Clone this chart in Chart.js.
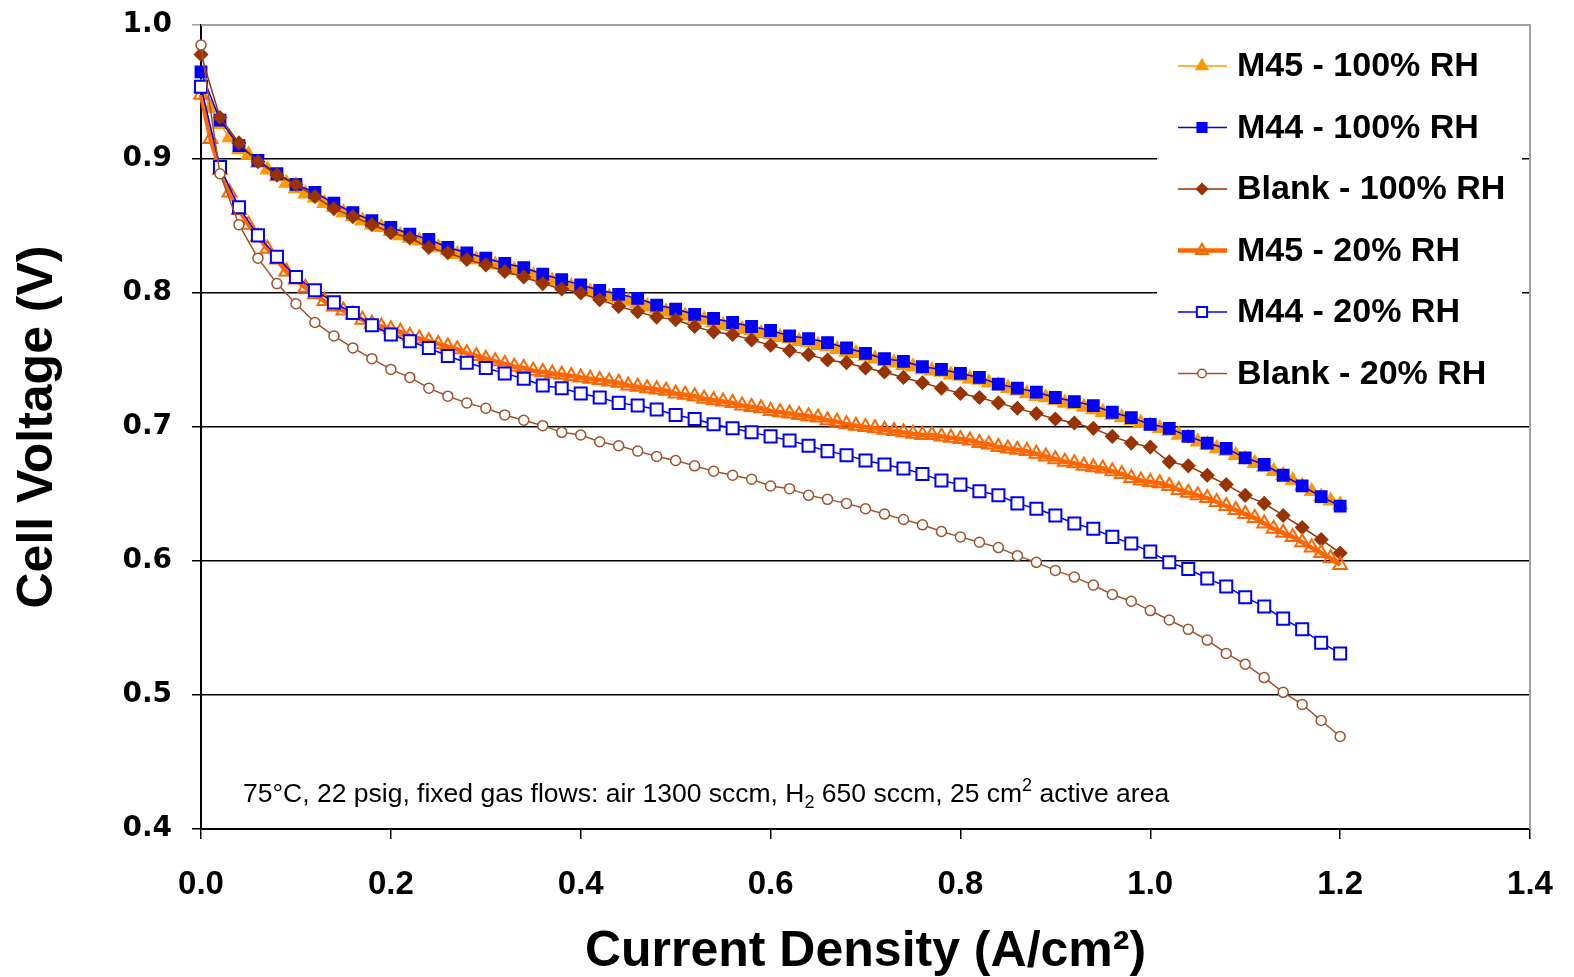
<!DOCTYPE html>
<html>
<head>
<meta charset="utf-8">
<title>Cell Voltage vs Current Density</title>
<script src="https://cdn.jsdelivr.net/npm/chart.js@4.4.1/dist/chart.umd.min.js"></script>
<style>
  html, body { margin: 0; padding: 0; background: #fff; }
  #wrap { width: 1574px; height: 977px; }
</style>
</head>
<body>
<div id="wrap"><canvas id="polChart" width="1574" height="977"></canvas></div>
<script>
// current density steps (A/cm2)
const currentCoarse = [0.00,0.02,0.04,0.06,0.08,0.10,0.12,0.14,0.16,0.18,0.20,0.22,0.24,0.26,0.28,0.30,0.32,0.34,0.36,0.38,0.40,
  0.42,0.44,0.46,0.48,0.50,0.52,0.54,0.56,0.58,0.60,0.62,0.64,0.66,0.68,0.70,0.72,0.74,0.76,0.78,0.80,
  0.82,0.84,0.86,0.88,0.90,0.92,0.94,0.96,0.98,1.00,1.02,1.04,1.06,1.08,1.10,1.12,1.14,1.16,1.18,1.20];
const currentFine = [0.00,0.01,0.02,0.03,0.04,0.05,0.06,0.07,0.08,0.09,0.10,0.11,0.12,0.13,0.14,0.15,0.16,0.17,0.18,0.19,0.20,
  0.21,0.22,0.23,0.24,0.25,0.26,0.27,0.28,0.29,0.30,0.31,0.32,0.33,0.34,0.35,0.36,0.37,0.38,0.39,0.40,
  0.41,0.42,0.43,0.44,0.45,0.46,0.47,0.48,0.49,0.50,0.51,0.52,0.53,0.54,0.55,0.56,0.57,0.58,0.59,0.60,
  0.61,0.62,0.63,0.64,0.65,0.66,0.67,0.68,0.69,0.70,0.71,0.72,0.73,0.74,0.75,0.76,0.77,0.78,0.79,0.80,
  0.81,0.82,0.83,0.84,0.85,0.86,0.87,0.88,0.89,0.90,0.91,0.92,0.93,0.94,0.95,0.96,0.97,0.98,0.99,1.00,
  1.01,1.02,1.03,1.04,1.05,1.06,1.07,1.08,1.09,1.10,1.11,1.12,1.13,1.14,1.15,1.16,1.17,1.18,1.19,1.20];

// cell voltages (V)
const m45Wet = [0.953,0.938,0.926,0.916,0.907,0.903,0.897,0.892,0.887,0.882,0.878,0.874,0.871,0.867,0.864,0.860,0.857,0.854,0.851,0.849,0.846,
  0.843,0.841,0.839,0.837,0.834,0.832,0.829,0.827,0.825,0.823,0.821,0.819,0.817,0.815,0.813,0.811,0.809,0.807,0.805,0.803,
  0.801,0.799,0.797,0.796,0.794,0.792,0.790,0.788,0.786,0.785,0.783,0.781,0.780,0.778,0.776,0.775,0.773,0.772,0.770,0.769,
  0.767,0.766,0.764,0.763,0.761,0.760,0.758,0.756,0.755,0.753,0.751,0.749,0.748,0.746,0.745,0.743,0.742,0.741,0.739,0.738,
  0.736,0.735,0.733,0.731,0.729,0.727,0.725,0.723,0.722,0.720,0.718,0.717,0.715,0.713,0.711,0.709,0.707,0.705,0.703,0.701,
  0.699,0.697,0.694,0.692,0.689,0.687,0.684,0.682,0.679,0.676,0.673,0.670,0.667,0.664,0.660,0.656,0.652,0.648,0.645,0.642];
const m44Wet = [0.965,0.929,0.910,0.899,0.889,0.881,0.875,0.867,0.860,0.854,0.849,0.844,0.840,0.834,0.830,0.826,0.822,0.819,0.814,0.810,0.806,
  0.802,0.799,0.796,0.791,0.788,0.784,0.781,0.778,0.775,0.772,0.768,0.766,0.763,0.759,0.755,0.751,0.749,0.745,0.743,0.740,
  0.737,0.732,0.729,0.726,0.722,0.719,0.716,0.711,0.707,0.702,0.699,0.693,0.688,0.684,0.677,0.672,0.664,0.656,0.648,0.641];
const blankWet = [0.978,0.931,0.912,0.898,0.888,0.881,0.872,0.863,0.857,0.851,0.845,0.841,0.834,0.830,0.825,0.821,0.816,0.812,0.807,0.803,0.800,
  0.795,0.790,0.786,0.782,0.780,0.775,0.771,0.769,0.765,0.761,0.757,0.754,0.750,0.748,0.744,0.741,0.737,0.733,0.729,0.725,
  0.722,0.718,0.714,0.710,0.706,0.703,0.699,0.693,0.688,0.685,0.674,0.671,0.664,0.657,0.649,0.643,0.634,0.625,0.616,0.606];
const m45Dry = [0.948,0.915,0.892,0.875,0.862,0.851,0.842,0.833,0.825,0.816,0.810,0.804,0.799,0.794,0.790,0.787,0.784,0.780,0.777,0.775,0.773,
  0.771,0.768,0.766,0.764,0.762,0.760,0.758,0.755,0.753,0.751,0.749,0.747,0.745,0.744,0.742,0.741,0.740,0.739,0.738,0.737,
  0.736,0.735,0.734,0.733,0.731,0.730,0.729,0.728,0.727,0.725,0.724,0.723,0.721,0.720,0.719,0.718,0.716,0.715,0.714,0.712,
  0.711,0.710,0.709,0.708,0.707,0.705,0.704,0.702,0.701,0.700,0.699,0.698,0.697,0.696,0.695,0.694,0.694,0.693,0.692,0.691,
  0.690,0.688,0.687,0.685,0.684,0.683,0.682,0.680,0.678,0.676,0.674,0.673,0.671,0.670,0.669,0.667,0.665,0.662,0.660,0.659,
  0.658,0.656,0.653,0.651,0.649,0.647,0.644,0.641,0.638,0.635,0.632,0.628,0.624,0.621,0.618,0.614,0.610,0.606,0.602,0.597];
const m44Dry = [0.954,0.894,0.864,0.843,0.827,0.812,0.802,0.793,0.785,0.776,0.769,0.764,0.759,0.753,0.748,0.744,0.740,0.736,0.731,0.729,0.725,
  0.722,0.718,0.716,0.713,0.709,0.706,0.702,0.699,0.696,0.693,0.690,0.686,0.682,0.679,0.675,0.672,0.669,0.665,0.660,0.657,
  0.652,0.649,0.643,0.639,0.634,0.628,0.624,0.618,0.613,0.607,0.599,0.594,0.587,0.581,0.573,0.566,0.557,0.549,0.539,0.531];
const blankDry = [0.985,0.889,0.851,0.826,0.807,0.792,0.778,0.768,0.759,0.751,0.743,0.737,0.729,0.723,0.718,0.714,0.709,0.705,0.701,0.696,0.694,
  0.689,0.686,0.682,0.678,0.675,0.671,0.667,0.664,0.661,0.656,0.654,0.649,0.646,0.643,0.639,0.635,0.631,0.627,0.622,0.618,
  0.614,0.610,0.604,0.599,0.593,0.588,0.582,0.575,0.570,0.563,0.556,0.549,0.541,0.531,0.523,0.513,0.502,0.493,0.481,0.469];

const seriesNames = ['M45 - 100% RH', 'M44 - 100% RH', 'Blank - 100% RH', 'M45 - 20% RH', 'M44 - 20% RH', 'Blank - 20% RH'];
const yTicks = [0.4, 0.5, 0.6, 0.7, 0.8, 0.9, 1.0];
const xTicks = [0.0, 0.2, 0.4, 0.6, 0.8, 1.0, 1.2, 1.4];

const pts = (xs, ys) => ys.map((v, i) => ({ x: xs[i], y: v }));

const SANS = '"Liberation Sans", Arial, sans-serif';

function series(label, xs, ys, color, style, opts) {
    return Object.assign({
        label: label,
        data: pts(xs, ys),
        showLine: true,
        borderColor: color,
        backgroundColor: color,
        borderWidth: 1.5,
        pointStyle: style,
        pointRadius: 5,
        pointBorderWidth: 1.5,
        pointBorderColor: color,
        pointBackgroundColor: color,
        pointHoverRadius: 5,
        clip: false
    }, opts);
}

const datasets = [
    series(seriesNames[0], currentFine, m45Wet, '#FF9900', 'triangle', { pointRadius: 8, order: 6 }),
    series(seriesNames[1], currentCoarse, m44Wet, '#0000FF', 'rect', { pointRadius: 8, order: 5 }),
    series(seriesNames[2], currentCoarse, blankWet, '#993300', 'rectRot', { pointRadius: 6.5, order: 4 }),
    series(seriesNames[3], currentFine, m45Dry, '#FF6600', 'triangle', { borderWidth: 4.5, pointRadius: 8, pointBorderWidth: 2, pointBackgroundColor: 'rgba(255,255,255,0)', order: 3 }),
    series(seriesNames[4], currentCoarse, m44Dry, '#0000FF', 'rect', { pointRadius: 8.5, pointBorderWidth: 2, pointBackgroundColor: '#FFFFFF', order: 2 }),
    series(seriesNames[5], currentCoarse, blankDry, '#A0522D', 'circle', { pointRadius: 5, pointBackgroundColor: '#FFFFFF', order: 1 })
];

// grey top/right frame, inner legend and test conditions note
const decorPlugin = {
    id: 'decor',
    beforeDatasetsDraw(chart) {
        const { ctx, chartArea: a } = chart;
        ctx.save();
        ctx.strokeStyle = '#A0A0A0';
        ctx.lineWidth = 2;
        ctx.beginPath();
        ctx.moveTo(a.left, a.top);
        ctx.lineTo(a.right, a.top);
        ctx.lineTo(a.right, a.bottom);
        ctx.stroke();

        // note
        let x = 243;
        const y = 802;
        ctx.fillStyle = '#000';
        ctx.textBaseline = 'alphabetic';
        ctx.textAlign = 'left';
        const parts = [
            ['75°C, 22 psig, fixed gas flows: air 1300 sccm, H', 0, 26.5],
            ['2', 6, 18],
            [' 650 sccm, 25 cm', 0, 26.5],
            ['2', -11, 18],
            [' active area', 0, 26.5]
        ];
        parts.forEach(([t, dy, size]) => {
            ctx.font = size + 'px ' + SANS;
            ctx.fillText(t, x, y + dy);
            x += ctx.measureText(t).width;
        });
        ctx.restore();
    },
    afterDraw(chart) {
        const { ctx } = chart;
        ctx.save();
        ctx.fillStyle = '#FFFFFF';
        ctx.fillRect(1157, 34, 365, 366);
        chart.data.datasets.forEach((ds, i) => {
            const y = 66 + i * 61.5;
            ctx.strokeStyle = ds.borderColor;
            ctx.lineWidth = ds.borderWidth;
            ctx.beginPath();
            ctx.moveTo(1178, y);
            ctx.lineTo(1227, y);
            ctx.stroke();
            ctx.fillStyle = ds.pointBackgroundColor;
            ctx.strokeStyle = ds.pointBorderColor;
            ctx.lineWidth = ds.pointBorderWidth;
            Chart.helpers.drawPoint(ctx, { pointStyle: ds.pointStyle, radius: ds.pointRadius * 0.85, borderWidth: ds.pointBorderWidth, rotation: 0 }, 1202, y);
            ctx.fillStyle = '#000';
            ctx.font = 'bold 34px ' + SANS;
            ctx.textBaseline = 'middle';
            ctx.fillText(ds.label, 1237, y + 1);
        });
        ctx.restore();
    }
};

new Chart(document.getElementById('polChart'), {
    type: 'scatter',
    data: { datasets: datasets },
    options: {
        responsive: false,
        animation: false,
        events: [],
        layout: { padding: { top: 25, right: 44, left: 0, bottom: 0 } },
        plugins: {
            legend: { display: false },
            tooltip: { enabled: false }
        },
        scales: {
            x: {
                type: 'linear',
                min: 0,
                max: 1.4,
                afterBuildTicks: s => { s.ticks = xTicks.map(v => ({ value: v })); },
                afterFit: s => { s.height = 148; s.paddingLeft = 0; s.paddingRight = 0; },
                border: { color: '#000', width: 2 },
                grid: { drawOnChartArea: false, drawTicks: true, tickLength: 10, color: '#000', lineWidth: 1.5 },
                ticks: {
                    color: '#000',
                    padding: 26,
                    maxRotation: 0,
                    font: { family: SANS, size: 33, weight: 'bold' },
                    callback: v => v.toFixed(1)
                },
                title: {
                    display: true,
                    text: 'Current Density (A/cm²)',
                    color: '#000',
                    font: { family: SANS, size: 50, weight: 'bold' },
                    padding: { top: 0, bottom: -5 }
                }
            },
            y: {
                type: 'linear',
                min: 0.4,
                max: 1.0,
                afterBuildTicks: s => { s.ticks = yTicks.map(v => ({ value: v })); },
                afterFit: s => { s.width = 201; s.paddingTop = 0; s.paddingBottom = 0; },
                border: { color: '#000', width: 2 },
                grid: {
                    drawOnChartArea: true,
                    drawTicks: true,
                    tickLength: 9,
                    lineWidth: 1.5,
                    color: c => (c.tick && Math.abs(c.tick.value - 1.0) < 1e-6) ? '#A0A0A0' : '#000'
                },
                ticks: {
                    color: '#000',
                    padding: 20,
                    font: { family: '"DejaVu Sans", Verdana, sans-serif', size: 28, weight: 'bold' },
                    callback: v => v.toFixed(1)
                },
                title: {
                    display: true,
                    text: 'Cell Voltage (V)',
                    color: '#000',
                    font: { family: SANS, size: 50, weight: 'bold' },
                    padding: { top: 8, bottom: 0 }
                }
            }
        }
    },
    plugins: [decorPlugin]
});
</script>
</body>
</html>
